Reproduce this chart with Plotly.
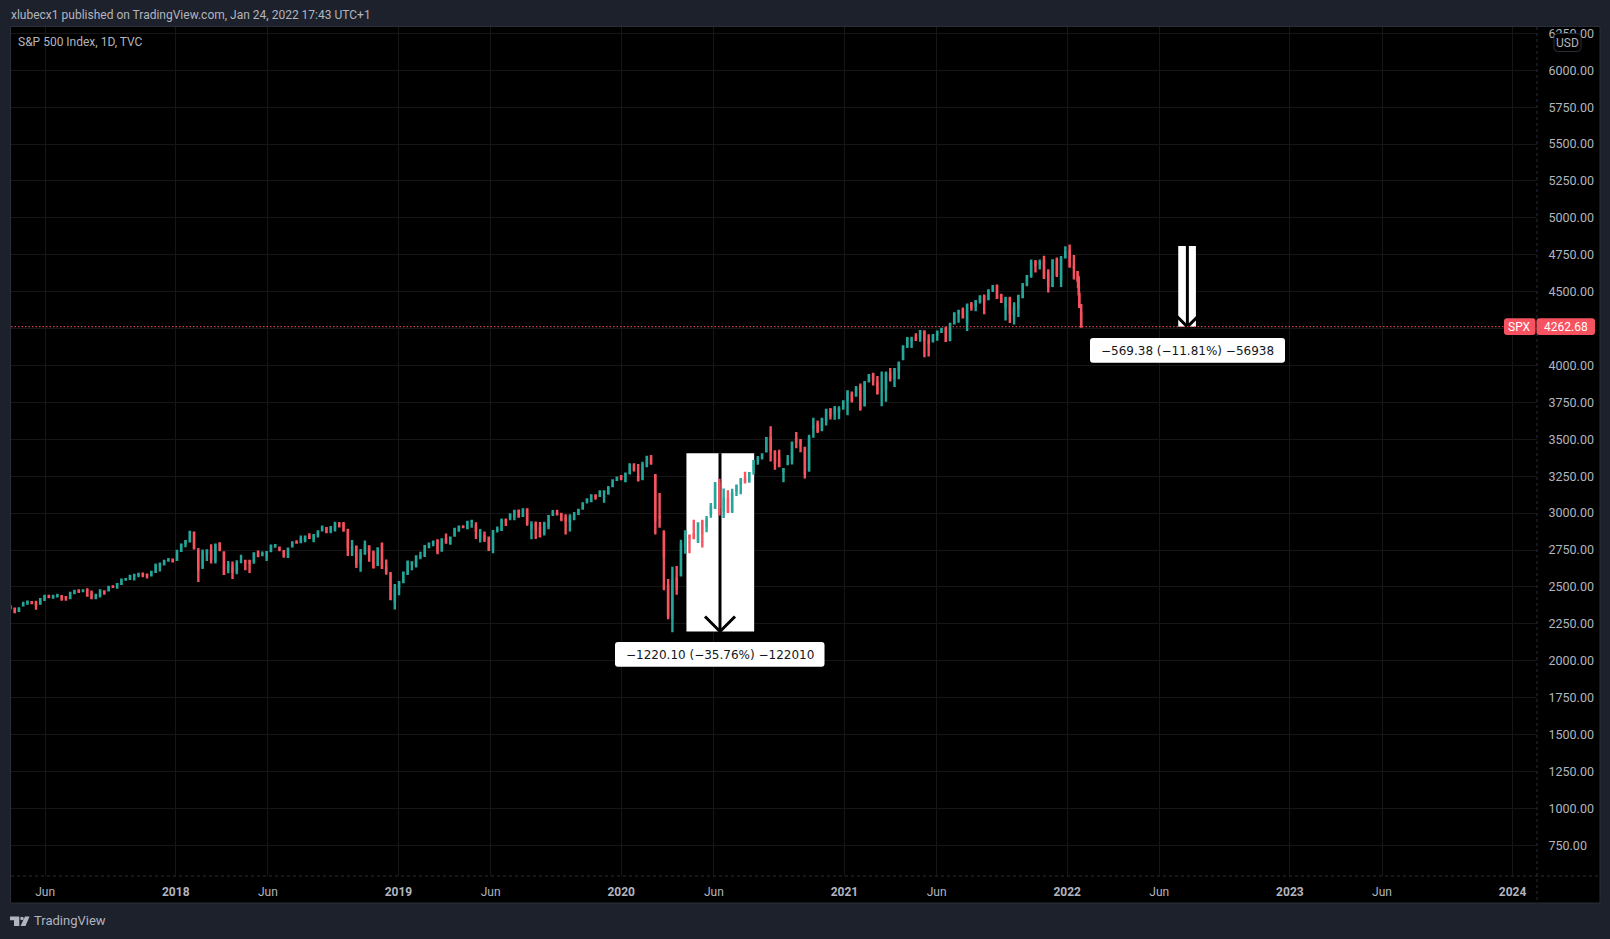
import pandas as pd
import plotly.graph_objects as go

# ---------- data (weekly samples of the SPX candles, daily for the last bars) ----------
opens_2017 = [2363,2353,2338,2375,2389,2397,2393,2387,2415,2437,2432,2437,2437,2431,2425,2460,2473,2475,2478,2455,2428,2444,2470,2477,2503,2503,2521,2551,2555,2578,2583,2588,2580,2579,2603,2645,2653,2679,2684]
highs_2017 = [2378,2357,2362,2399,2400,2404,2406,2416,2440,2446,2446,2454,2443,2433,2463,2478,2484,2479,2491,2475,2454,2480,2471,2500,2510,2520,2552,2555,2575,2582,2588,2598,2590,2605,2658,2665,2680,2695,2693]
lows_2017 = [2348,2328,2337,2374,2379,2389,2345,2382,2405,2425,2419,2431,2406,2407,2417,2450,2459,2464,2438,2425,2417,2428,2446,2475,2493,2488,2520,2542,2547,2544,2566,2566,2557,2575,2599,2605,2652,2673,2673]
closes_2017 = [2356,2329,2349,2384,2399,2391,2382,2416,2439,2432,2433,2438,2423,2425,2459,2473,2472,2476,2441,2425,2444,2476,2461,2500,2502,2519,2549,2553,2575,2581,2588,2582,2579,2602,2642,2652,2675,2683,2674]

opens_2018 = [2683,2745,2799,2809,2867,2741,2636,2725,2745,2681,2791,2730,2619,2633,2611,2670,2675,2675,2675,2738,2720,2705,2743,2779,2765,2742,2704,2775,2802,2803,2820,2840,2828,2853,2884,2897,2881,2890,2925,2926,2882,2763,2773,2670,2726,2774,2730,2650,2790,2630,2590,2400]
highs_2018 = [2744,2787,2811,2873,2870,2763,2754,2747,2789,2786,2802,2741,2675,2672,2680,2717,2683,2683,2733,2742,2739,2736,2779,2790,2774,2747,2760,2804,2816,2848,2841,2863,2855,2876,2916,2900,2906,2941,2940,2939,2894,2817,2778,2756,2815,2775,2747,2760,2800,2685,2601,2520]
lows_2018 = [2683,2737,2768,2807,2759,2533,2622,2675,2659,2659,2741,2585,2593,2553,2586,2660,2612,2594,2656,2701,2707,2676,2736,2765,2741,2698,2698,2770,2795,2800,2802,2830,2802,2835,2883,2864,2864,2875,2903,2874,2710,2710,2628,2603,2717,2670,2631,2650,2621,2583,2409,2347]
closes_2018 = [2743,2786,2810,2872,2762,2620,2732,2747,2691,2786,2752,2588,2640,2604,2656,2670,2670,2663,2727,2713,2721,2735,2779,2780,2755,2718,2759,2801,2801,2819,2840,2833,2850,2875,2902,2872,2905,2930,2914,2885,2767,2767,2658,2723,2781,2736,2633,2760,2633,2600,2417,2486]

opens_2019 = [2498,2535,2590,2657,2644,2706,2711,2770,2798,2814,2747,2823,2796,2848,2889,2906,2898,2943,2908,2841,2841,2830,2751,2885,2886,2950,2972,2979,3017,2981,3024,2898,2930,2900,2866,2910,2988,2996,2992,2967,2945,2965,2996,3032,3078,3081,3117,3117,3144,3141,3183,3226]
highs_2019 = [2539,2597,2675,2671,2708,2738,2775,2795,2814,2816,2830,2861,2836,2893,2911,2917,2940,2955,2938,2892,2875,2841,2885,2910,2964,2964,2995,3014,3018,3028,3028,2945,2943,2939,2941,2985,3021,3022,3002,2992,2993,3008,3027,3067,3097,3120,3127,3154,3150,3183,3226,3247]
lows_2019 = [2444,2525,2580,2612,2631,2687,2705,2764,2775,2722,2741,2800,2785,2848,2874,2899,2898,2900,2825,2801,2805,2751,2728,2868,2883,2912,2952,2952,2970,2973,2914,2822,2825,2835,2848,2891,2980,2990,2945,2855,2875,2952,2990,3023,3065,3077,3090,3113,3070,3125,3183,3223]
closes_2019 = [2532,2596,2671,2665,2707,2708,2775,2793,2804,2743,2822,2801,2834,2893,2907,2905,2940,2946,2881,2860,2826,2752,2873,2887,2950,2942,2990,3014,2976,3025,2932,2919,2888,2847,2926,2979,3007,2992,2961,2952,2970,2986,3022,3066,3093,3120,3110,3141,3146,3169,3221,3240]

opens_2020 = [3247,3217,3273,3321,3247,3235,3319,3370,3257,2974,2864,2508,2290,2555,2578,2782,2846,2855,2815,2938,2914,3000,3039,3199,3018,3094,3018,3155,3205,3224,3219,3288,3357,3380,3418,3508,3412,3364,3285,3335,3367,3500,3493,3441,3296,3583,3600,3567,3634,3699,3675,3693]
highs_2020 = [3258,3275,3330,3337,3333,3347,3385,3393,3259,3136,2883,2553,2637,2641,2819,2880,2845,2955,2935,2955,2980,3068,3211,3233,3166,3155,3165,3186,3238,3280,3272,3352,3387,3399,3509,3588,3425,3429,3300,3393,3482,3549,3502,3441,3530,3646,3628,3645,3699,3712,3726,3723]
lows_2020 = [3222,3214,3262,3281,3214,3223,3315,3328,2855,2901,2478,2280,2192,2447,2575,2725,2728,2831,2797,2767,2870,2969,3028,2984,2966,3009,3000,3115,3127,3200,3205,3260,3328,3363,3418,3349,3293,3313,3209,3324,3329,3440,3413,3234,3280,3511,3543,3555,3594,3634,3633,3636]
closes_2020 = [3235,3265,3329,3295,3225,3327,3380,3337,2954,2972,2711,2305,2541,2489,2790,2875,2837,2831,2930,2864,2955,3044,3194,3041,3098,3009,3130,3185,3224,3215,3271,3351,3373,3397,3508,3427,3341,3319,3298,3348,3477,3484,3465,3270,3509,3585,3557,3638,3699,3663,3709,3703]

opens_2021 = [3723,3764,3803,3797,3857,3731,3892,3938,3885,3842,3844,3943,3916,3969,4045,4135,4174,4186,4192,4228,4169,4168,4207,4229,4248,4173,4285,4356,4372,4296,4410,4406,4437,4462,4450,4513,4535,4474,4403,4450,4349,4385,4464,4553,4610,4700,4689,4712,4628,4539,4710,4588,4733]
highs_2021 = [3760,3826,3823,3861,3878,3887,3937,3950,3928,3960,3960,3983,3978,4020,4129,4191,4195,4218,4238,4238,4212,4213,4234,4249,4262,4286,4355,4372,4393,4415,4430,4441,4468,4480,4510,4546,4549,4486,4465,4466,4429,4475,4559,4608,4718,4714,4718,4743,4652,4713,4731,4741,4808]
lows_2021 = [3700,3663,3750,3796,3694,3725,3884,3865,3806,3723,3755,3892,3854,3907,4035,4118,4118,4165,4160,4056,4061,4155,4168,4220,4165,4165,4279,4289,4321,4233,4370,4368,4420,4347,4443,4497,4458,4427,4305,4288,4278,4329,4459,4537,4595,4630,4650,4585,4495,4532,4600,4531,4733]
closes_2021 = [3756,3824,3768,3841,3714,3886,3934,3906,3811,3842,3943,3913,3974,4019,4129,4185,4180,4181,4233,4174,4156,4204,4229,4247,4167,4281,4352,4369,4327,4411,4395,4436,4468,4441,4509,4535,4458,4432,4455,4357,4391,4471,4544,4605,4697,4682,4697,4595,4538,4712,4620,4725,4766]

dates_2022 = ["2022-01-05", "2022-01-12", "2022-01-18", "2022-01-19", "2022-01-20", "2022-01-21", "2022-01-24"]
opens_2022 = [4778,4670,4632,4588,4547,4471,4357]
highs_2022 = [4819,4749,4632,4612,4602,4494,4417]
lows_2022 = [4662,4582,4568,4531,4475,4395,4263]
closes_2022 = [4677,4663,4577,4533,4483,4398,4263]

opens = opens_2017 + opens_2018 + opens_2019 + opens_2020 + opens_2021 + opens_2022
highs = highs_2017 + highs_2018 + highs_2019 + highs_2020 + highs_2021 + highs_2022
lows = lows_2017 + lows_2018 + lows_2019 + lows_2020 + lows_2021 + lows_2022
closes = closes_2017 + closes_2018 + closes_2019 + closes_2020 + closes_2021 + closes_2022
assert len(opens) == len(highs) == len(lows) == len(closes)

weekly_dates = list(pd.date_range("2017-04-05", periods=len(opens) - len(dates_2022), freq="W-WED").strftime("%Y-%m-%d"))
bar_dates = weekly_dates + dates_2022

price_ticks = [750, 1000, 1250, 1500, 1750, 2000, 2250, 2500, 2750, 3000, 3250, 3500, 3750, 4000,
               4250, 4500, 4750, 5000, 5250, 5500, 5750, 6000, 6250]
price_labels = [f"{v:.2f}" for v in price_ticks]
time_ticks = ["2017-06-01", "2018-01-01", "2018-06-01", "2019-01-01", "2019-06-01", "2020-01-01", "2020-06-01",
              "2021-01-01", "2021-06-01", "2022-01-01", "2022-06-01", "2023-01-01", "2023-06-01", "2024-01-01"]
time_labels = ["Jun", "<b>2018</b>", "Jun", "<b>2019</b>", "Jun", "<b>2020</b>", "Jun",
               "<b>2021</b>", "Jun", "<b>2022</b>", "Jun", "<b>2023</b>", "Jun", "<b>2024</b>"]

last_price = 4262.68
range1_dates = ["2020-04-17", "2020-06-11", "2020-08-06"]
range1_prices = [3406, 2198]
range1_text = "−1220.10 (−35.76%) −122010"
range2_dates = ["2022-07-02", "2022-07-17", "2022-07-31"]
range2_prices = [4810, 4262]
range2_text = "−569.38 (−11.81%) −56938"

# ---------- styling ----------
W, H = 1610, 939
L, R, T, B = 11, 1537, 27, 876
PAGE = "#1d212c"
TXT = "#b2b5be"
UP, DOWN = "#26a69a", "#f7525f"
GRID = "#161616"
SEP = "#2a2e39"
FONT = "Roboto"
MS_PER_DAY = 86400000
PX_PER_DAY = 0.6103

def fx(px):
    return (px - L) / (R - L)

def fy(py):
    return 1 - (py - T) / (B - T)

def rrect(x0, y0, x1, y1, r=3):
    a, b, c, d = fx(x0), fy(y0), fx(x1), fy(y1)
    rx, ry = r / (R - L), r / (B - T)
    return (f"M{a+rx},{b} L{c-rx},{b} Q{c},{b} {c},{b-ry} L{c},{d+ry} Q{c},{d} {c-rx},{d} "
            f"L{a+rx},{d} Q{a},{d} {a},{d+ry} L{a},{b-ry} Q{a},{b} {a+rx},{b} Z")

def paper_path(path, fill, line=None, layer="above", width=1):
    return dict(type="path", xref="paper", yref="paper", path=path, fillcolor=fill, layer=layer,
                line=dict(color=line or "rgba(0,0,0,0)", width=width))

def range_bars(dates, prices):
    """White box and black shaft of a price-range tool, drawn under the candles and over the grid."""
    lo, hi = min(prices), max(prices)
    start, mid, end = map(pd.Timestamp, dates)
    span = (end - start) / pd.Timedelta(milliseconds=1)
    centre = start + (end - start) / 2
    return [
        go.Bar(x=[centre], y=[hi - lo], base=[lo], width=[span], marker=dict(color="#ffffff", line=dict(width=0)),
               showlegend=False, hoverinfo="skip"),
        go.Bar(x=[mid], y=[hi - lo], base=[lo], width=[3 / PX_PER_DAY * MS_PER_DAY],
               marker=dict(color="#000000", line=dict(width=0)), showlegend=False, hoverinfo="skip"),
    ]

def arrow_head(dates, prices):
    return dict(type="path", xref="x", yref="y", xsizemode="pixel", ysizemode="pixel",
                xanchor=dates[1], yanchor=min(prices), path="M-15,15 L0,0 L15,15",
                line=dict(color="#000000", width=3), layer="above")

fig = go.Figure()
for tr in range_bars(range1_dates, range1_prices) + range_bars(range2_dates, range2_prices):
    fig.add_trace(tr)
fig.add_trace(go.Candlestick(
    x=bar_dates, open=opens, high=highs, low=lows, close=closes,
    increasing=dict(line=dict(color=UP, width=2.4), fillcolor=UP),
    decreasing=dict(line=dict(color=DOWN, width=2.4), fillcolor=DOWN),
    whiskerwidth=0, showlegend=False,
))

shapes = [
    dict(type="rect", xref="paper", yref="paper", x0=fx(10.5), x1=fx(1600), y0=fy(903), y1=fy(26.5),
         fillcolor="#000000", line=dict(color=SEP, width=1), layer="below"),
    arrow_head(range1_dates, range1_prices),
    arrow_head(range2_dates, range2_prices),
    dict(type="line", xref="paper", yref="y", x0=0, x1=1, y0=last_price, y1=last_price,
         line=dict(color=DOWN, width=1, dash="1.5px,2px"), layer="above"),
    dict(type="line", xref="paper", yref="paper", x0=1, x1=1, y0=fy(27), y1=fy(903),
         line=dict(color=SEP, width=1, dash="dot"), layer="above"),
    dict(type="line", xref="paper", yref="paper", x0=0, x1=fx(1600), y0=0, y1=0,
         line=dict(color=SEP, width=1, dash="dot"), layer="above"),
    paper_path(rrect(615, 642, 824.5, 666.7), "#ffffff"),
    paper_path(rrect(1090, 338, 1285, 362.7), "#ffffff"),
    paper_path(rrect(1504, 318.3, 1535.5, 335), DOWN),
    paper_path(rrect(1536.5, 318.3, 1595, 335), DOWN),
    paper_path(rrect(1554, 33.5, 1581, 51.5, 4), "#000000", SEP),
    # logo
    paper_path(f"M{fx(10)},{fy(916.5)} L{fx(19.3)},{fy(916.5)} L{fx(19.3)},{fy(926)} L{fx(14)},{fy(926)} "
               f"L{fx(14)},{fy(920.3)} L{fx(10)},{fy(920.3)} Z", TXT),
    paper_path(f"M{fx(25)},{fy(916.5)} L{fx(29.5)},{fy(916.5)} L{fx(25.5)},{fy(926)} L{fx(20.5)},{fy(926)} Z", TXT),
    dict(type="circle", xref="paper", yref="paper", x0=fx(20.2), x1=fx(23.8), y0=fy(920.3), y1=fy(916.7),
         fillcolor=TXT, line=dict(width=0), layer="above"),
]

def note(text, px, py, anchor="left", size=12, color=TXT, family=FONT):
    return dict(xref="paper", yref="paper", x=fx(px), y=fy(py), text=text, showarrow=False, xanchor=anchor,
                yanchor="middle", font=dict(family=family, size=size, color=color), borderpad=0)

annotations = [
    note("xlubecx1 published on TradingView.com, Jan 24, 2022 17:43 UTC+1", 10, 15, size=12),
    note("S&amp;P 500 Index, 1D, TVC", 17, 42),
    note("USD", 1567.5, 43, "center"),
    note(range1_text, 719.7, 654.5, "center", 12, "#131722", "DejaVu Sans"),
    note(range2_text, 1187.5, 350.5, "center", 12, "#131722", "DejaVu Sans"),
    note("SPX", 1519.5, 327, "center", 12, "#ffffff"),
    note(f"{last_price:.2f}", 1566, 327, "center", 12, "#ffffff"),
    note("TradingView", 33, 921, size=13),
]

fig.update_layout(
    width=W, height=H, autosize=False,
    margin=dict(l=L, r=W - R, t=T, b=H - B, pad=0),
    paper_bgcolor=PAGE, plot_bgcolor="#000000",
    shapes=shapes, annotations=annotations,
    font=dict(family=FONT, size=12, color=TXT),
    hovermode=False, dragmode=False, barmode="overlay",
)
fig.update_xaxes(
    type="date", range=["2017-04-06", "2024-02-10"], rangeslider=dict(visible=False),
    tickmode="array", tickvals=time_ticks, ticktext=time_labels,
    showgrid=True, gridcolor=GRID, gridwidth=1, zeroline=False, showline=False,
    ticks="outside", ticklen=5, tickcolor="rgba(0,0,0,0)", tickfont=dict(family=FONT, size=12, color=TXT),
    automargin=False,
)
fig.update_yaxes(
    side="right", range=[541.5, 6293], tickmode="array", tickvals=price_ticks, ticktext=price_labels,
    showgrid=True, gridcolor=GRID, gridwidth=1, zeroline=False, showline=False,
    ticks="outside", ticklen=8, tickcolor="rgba(0,0,0,0)", tickfont=dict(family=FONT, size=12.5, color=TXT),
    automargin=False,
)

fig.write_html("out.html", config=dict(displayModeBar=False),
               post_script="document.body.style.margin='0';document.body.style.background='%s';" % PAGE)
